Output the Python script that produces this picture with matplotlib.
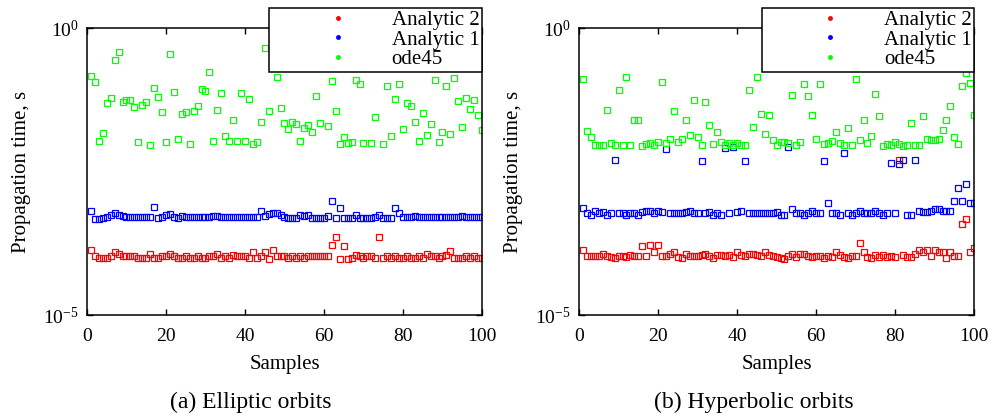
import numpy as np
import matplotlib
matplotlib.use('Agg')
import matplotlib.pyplot as plt
from matplotlib.lines import Line2D
from matplotlib.ticker import NullLocator

plt.rcParams['font.family'] = ['Liberation Serif', 'DejaVu Serif']
plt.rcParams['mathtext.fontset'] = 'custom'
plt.rcParams['mathtext.rm'] = 'Liberation Serif'
plt.rcParams['mathtext.it'] = 'Liberation Serif:italic'

samples = np.arange(1, 101)

# log10 of propagation time [s], elliptic orbits
ell_an2 = [-3.86, -3.98, -4.01, -4.01, -4.01, -3.98, -3.91, -3.94, -3.98, -3.98,
           -3.98, -3.98, -4.00, -4.01, -4.00, -3.94, -4.01, -4.01, -3.98, -3.98,
           -3.93, -3.98, -4.00, -4.01, -3.98, -4.00, -4.01, -3.98, -4.01, -4.01,
           -3.98, -3.98, -3.93, -4.00, -3.98, -4.01, -3.96, -3.98, -3.98, -3.98,
           -4.01, -3.91, -4.01, -3.98, -3.90, -4.02, -3.86, -3.98, -3.98, -3.98,
           -4.00, -3.98, -4.00, -3.98, -4.01, -3.98, -3.98, -3.98, -3.97, -3.97,
           -3.97, -3.78, -3.64, -4.02, -3.79, -4.02, -4.00, -3.96, -3.98, -4.01,
           -3.97, -3.98, -4.01, -3.64, -4.01, -3.97, -4.01, -3.98, -4.01, -4.01,
           -3.98, -4.00, -4.01, -3.98, -4.01, -3.93, -3.98, -3.98, -4.01, -3.98,
           -3.96, -3.88, -4.01, -4.01, -4.01, -3.98, -4.01, -3.98, -4.01, -4.01]
ell_an1 = [-3.18, -3.32, -3.32, -3.31, -3.29, -3.25, -3.23, -3.25, -3.28, -3.30,
           -3.30, -3.30, -3.30, -3.30, -3.30, -3.30, -3.11, -3.31, -3.30, -3.26,
           -3.24, -3.29, -3.31, -3.28, -3.30, -3.30, -3.30, -3.30, -3.30, -3.29,
           -3.29, -3.28, -3.28, -3.30, -3.30, -3.30, -3.30, -3.30, -3.30, -3.30,
           -3.29, -3.29, -3.29, -3.18, -3.28, -3.24, -3.23, -3.23, -3.25, -3.30,
           -3.31, -3.31, -3.31, -3.26, -3.28, -3.25, -3.31, -3.31, -3.31, -3.31,
           -3.28, -3.01, -3.31, -3.14, -3.31, -3.31, -3.31, -3.26, -3.31, -3.31,
           -3.31, -3.31, -3.30, -3.26, -3.31, -3.31, -3.31, -3.14, -3.22, -3.29,
           -3.29, -3.29, -3.27, -3.30, -3.30, -3.29, -3.29, -3.30, -3.29, -3.30,
           -3.30, -3.29, -3.30, -3.30, -3.28, -3.30, -3.29, -3.29, -3.30, -3.30]
ell_ode45 = [-0.83, -0.94, -1.97, -1.83, -1.31, -1.22, -0.55, -0.42, -1.28, -1.25,
             -1.26, -1.38, -1.99, -1.34, -1.28, -2.04, -1.04, -1.20, -1.47, -1.99,
             -0.45, -1.11, -1.94, -1.49, -1.46, -2.02, -1.45, -1.36, -1.06, -1.10,
             -0.77, -1.97, -1.43, -1.13, -1.88, -1.96, -1.61, -1.97, -1.13, -1.97,
             -1.23, -2.02, -1.98, -1.63, -0.34, -1.44, -0.50, -0.85, -1.39, -1.65,
             -1.75, -1.63, -1.67, -1.96, -1.74, -1.69, -1.81, -1.18, -1.65, -0.60,
             -1.70, -0.92, -1.45, -2.02, -1.90, -2.00, -1.98, -0.91, -0.98, -2.00,
             -0.45, -2.00, -1.55, -0.55, -2.02, -1.01, -1.88, -1.24, -0.98, -1.75,
             -1.30, -1.35, -1.63, -1.97, -1.48, -1.87, -1.67, -0.91, -1.98, -1.81,
             -1.01, -1.85, -0.87, -1.27, -1.72, -1.22, -1.41, -1.25, -1.52, -1.78]

# log10 of propagation time [s], hyperbolic orbits
hyp_an2 = [-3.87, -3.98, -3.98, -3.98, -3.98, -3.94, -3.97, -3.99, -4.01, -3.97,
           -3.97, -3.99, -3.95, -3.98, -3.98, -3.80, -3.98, -3.78, -3.90, -3.78,
           -3.98, -3.98, -3.94, -3.91, -3.99, -4.01, -3.94, -3.98, -3.97, -3.97,
           -3.95, -3.94, -3.98, -4.01, -3.96, -3.96, -3.97, -3.96, -3.99, -3.90,
           -3.95, -3.97, -3.93, -3.93, -3.95, -3.97, -3.91, -3.95, -3.97, -3.99,
           -4.01, -4.02, -3.98, -3.94, -3.99, -3.94, -3.93, -3.97, -3.99, -3.97,
           -3.97, -4.01, -3.97, -3.99, -3.91, -3.95, -3.99, -4.01, -3.97, -3.97,
           -3.75, -3.91, -3.99, -4.01, -3.96, -3.99, -3.96, -3.99, -3.98, -3.99,
           -2.29, -3.95, -3.99, -3.99, -3.94, -3.87, -3.91, -3.86, -3.98, -3.87,
           -3.90, -3.91, -4.01, -3.91, -3.98, -3.97, -3.41, -3.32, -3.91, -3.83]
hyp_an1 = [-3.13, -3.23, -3.25, -3.19, -3.22, -3.21, -3.25, -3.22, -2.30, -3.23,
           -3.23, -3.25, -3.22, -3.23, -3.25, -3.20, -3.19, -3.18, -3.22, -3.18,
           -3.20, -2.11, -3.22, -3.23, -3.22, -3.23, -3.20, -3.19, -3.23, -3.23,
           -2.32, -3.22, -3.20, -3.25, -3.23, -3.25, -2.09, -3.23, -2.07, -3.21,
           -3.19, -2.31, -3.23, -3.23, -3.22, -3.23, -3.23, -3.22, -3.22, -3.21,
           -3.25, -3.25, -2.08, -3.15, -3.22, -3.23, -3.25, -3.22, -3.19, -3.22,
           -3.22, -2.31, -3.05, -3.22, -3.23, -3.26, -2.17, -3.23, -3.25, -3.23,
           -3.19, -3.22, -3.22, -3.22, -3.18, -3.22, -3.25, -3.22, -2.35, -3.23,
           -2.37, -2.30, -3.25, -3.25, -2.29, -3.18, -3.20, -3.20, -3.18, -3.15,
           -3.15, -3.18, -3.18, -3.18, -3.01, -2.78, -3.01, -2.72, -3.05, -3.04]
hyp_ode45 = [-0.88, -1.79, -1.90, -2.04, -2.04, -2.03, -1.43, -2.01, -2.04, -1.08,
             -2.03, -0.86, -2.03, -1.60, -1.61, -2.06, -2.02, -2.01, -2.03, -1.98,
             -0.94, -2.01, -1.94, -1.45, -1.99, -1.93, -1.61, -1.86, -1.25, -1.89,
             -2.04, -1.29, -1.69, -2.02, -1.81, -1.98, -2.03, -2.01, -2.04, -2.00,
             -2.03, -2.04, -1.07, -1.73, -0.86, -1.49, -1.84, -1.52, -1.95, -2.04,
             -1.99, -1.98, -2.00, -1.17, -2.03, -1.98, -0.98, -1.19, -1.52, -1.93,
             -0.98, -2.02, -2.01, -1.96, -1.81, -2.00, -2.03, -1.74, -2.04, -0.89,
             -1.95, -1.61, -2.01, -1.88, -1.15, -1.54, -2.05, -2.02, -2.04, -1.99,
             -2.02, -2.05, -2.03, -1.66, -2.04, -2.04, -1.53, -1.93, -1.95, -1.95,
             -1.94, -1.77, -1.61, -1.36, -1.90, -2.02, -1.01, -0.79, -0.96, -1.52]

labels = ['Analytic 2', 'Analytic 1', 'ode45']
colors = ['#ff0000', '#0000ff', '#00ff00']
captions = ['(a) Elliptic orbits', '(b) Hyperbolic orbits']
panels = [[ell_an2, ell_an1, ell_ode45], [hyp_an2, hyp_an1, hyp_ode45]]

fig = plt.figure(figsize=(9.95, 4.17), dpi=100)
ax_left = [0.0874, 0.582]
cap_x = [0.252, 0.758]

for k in range(2):
    ax = fig.add_axes([ax_left[k], 0.2446, 0.397, 0.688])
    for series, c in zip(panels[k], colors):
        ax.plot(samples, 10 ** np.array(series), ls='none', marker='s',
                markersize=4, mfc='none', mec=c, mew=0.9)
    ax.set_yscale('log')
    ax.set_xlim(0, 100)
    ax.set_ylim(1e-5, 1)
    ax.set_xticks([0, 20, 40, 60, 80, 100])
    ax.set_yticks([1e-5, 1])
    ax.yaxis.set_minor_locator(NullLocator())
    ax.tick_params(direction='in', top=True, right=True, length=4, width=1,
                   labelsize=14, colors='black')
    ax.tick_params(axis='x', pad=9)
    ax.tick_params(axis='y', pad=6)
    for sp in ax.spines.values():
        sp.set_linewidth(1.1)

    ax.set_xlabel('Samples', fontsize=15)
    ax.xaxis.label.set_va('center')
    ax.xaxis.set_label_coords(0.5, -0.174)
    ax.set_ylabel('Propagation time, s', fontsize=15)
    ax.yaxis.label.set_va('center')
    ax.yaxis.set_label_coords(-0.165, 0.5)

    handles = [Line2D([], [], ls='none', marker='.', markersize=5, color=c)
               for c in colors]
    leg = ax.legend(handles, labels, loc='upper right',
                    bbox_to_anchor=(1.0, 1.0697), borderaxespad=0,
                    fontsize=15, handlelength=6.3, handletextpad=-0.55,
                    labelspacing=0.0, borderpad=0.12, fancybox=False,
                    framealpha=1, edgecolor='black')
    leg.get_frame().set_linewidth(1.1)

    fig.text(cap_x[k], 0.036, captions[k], ha='center', va='center', fontsize=17)

plt.savefig('out.png', dpi=100)
